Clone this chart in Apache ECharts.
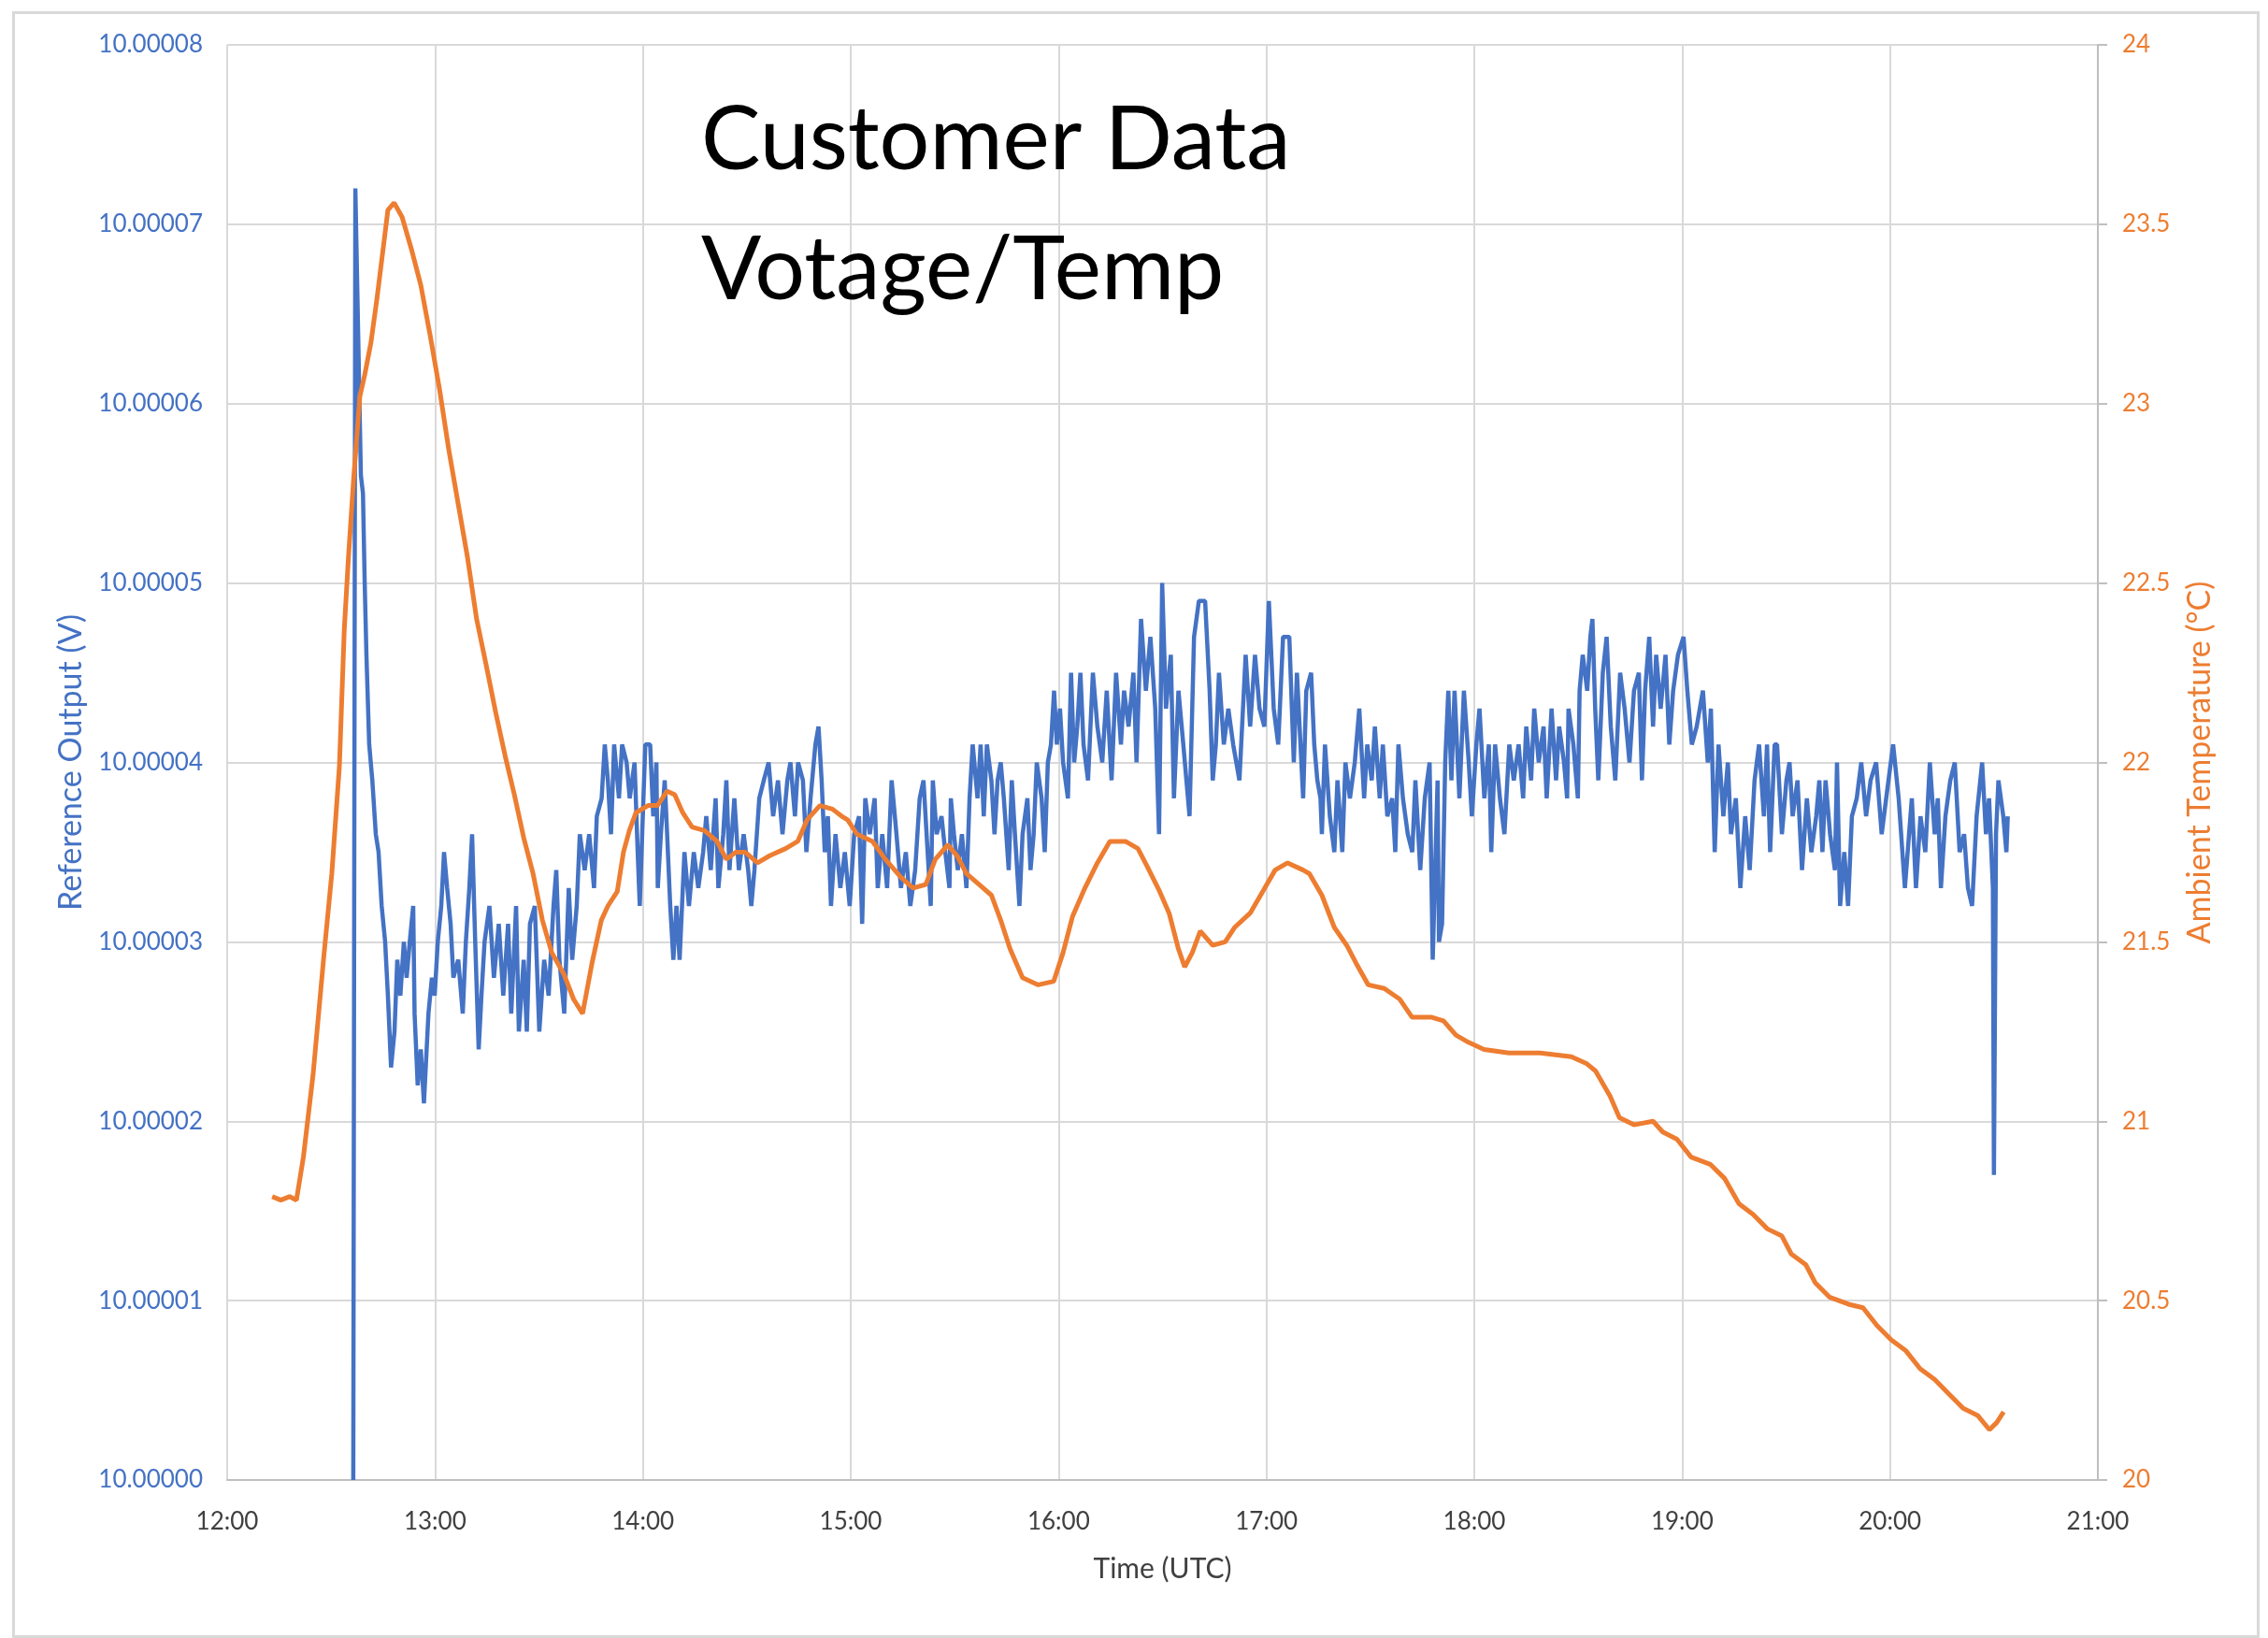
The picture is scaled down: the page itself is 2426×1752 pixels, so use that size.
<!DOCTYPE html>
<html>
<head>
<meta charset="utf-8">
<title>Customer Data Votage/Temp</title>
<script src="https://cdn.jsdelivr.net/npm/echarts/dist/echarts.min.js"></script>
<style>
html, body { margin: 0; padding: 0; background: #fff; }
#chart { width: 2426px; height: 1752px; }
</style>
</head>
<body>
<div id="chart"></div>
<script>
// time axis is minutes after midnight (UTC)
var hourTicks = ["12:00", "13:00", "14:00", "15:00", "16:00", "17:00", "18:00", "19:00", "20:00", "21:00"];

var voltTimes = [
  756.4, 757.0, 757.8, 758.6, 759.2, 759.7, 760.2, 761.0, 761.9, 762.9,
  763.7, 764.6, 765.6, 766.4, 767.3, 768.3, 769.1, 770.0, 771.0, 771.8,
  772.7, 773.7, 774.1, 775.0, 775.9, 776.8, 778.1, 779.1, 779.9, 780.8,
  781.8, 782.6, 783.5, 784.5, 785.3, 786.7, 788.0, 788.9, 789.9, 790.7,
  791.6, 792.6, 793.4, 794.3, 795.7, 797.0, 798.4, 799.7, 801.1, 802.0,
  803.4, 804.2, 805.6, 806.5, 807.4, 808.8, 810.1, 811.5, 812.8, 814.2,
  815.0, 815.9, 817.3, 818.6, 819.6, 820.9, 821.8, 823.2, 824.5, 825.9,
  826.7, 828.1, 829.0, 829.9, 830.8, 831.7, 833.1, 834.0, 835.3, 836.2,
  837.6, 838.5, 839.1, 839.8, 840.7, 842.1, 843.0, 843.9, 844.3, 845.2,
  846.3, 847.0, 847.9, 848.8, 849.7, 850.6, 852.0, 853.3, 854.7, 856.0,
  857.4, 858.3, 859.6, 861.0, 861.8, 863.2, 864.1, 865.0, 866.4, 867.7,
  869.1, 870.4, 871.3, 872.2, 873.6, 874.9, 876.3, 877.6, 879.0, 880.3,
  881.7, 882.6, 883.9, 884.8, 886.2, 887.2, 888.4, 889.8, 890.7, 891.6,
  892.5, 893.4, 894.3, 895.6, 897.0, 898.3, 899.7, 901.0, 902.4, 903.3,
  904.2, 905.5, 906.9, 907.8, 909.1, 910.5, 911.8, 913.2, 914.5, 915.9,
  917.2, 918.6, 919.9, 921.0, 922.2, 923.1, 923.7, 924.8, 926.2, 927.3,
  928.5, 928.9, 929.8, 930.9, 932.1, 933.4, 934.3, 935.2, 936.6, 937.5,
  938.4, 939.3, 940.6, 941.5, 942.4, 943.3, 944.2, 945.6, 946.5, 947.4,
  948.7, 949.6, 951.0, 951.9, 952.8, 953.7, 955.1, 956.0, 956.9, 957.8,
  958.7, 959.5, 960.4, 961.3, 962.7, 963.6, 964.5, 965.4, 966.3, 967.2,
  968.5, 969.9, 971.2, 972.6, 973.9, 975.3, 976.6, 978.0, 978.9, 980.2,
  981.6, 982.5, 983.8, 985.2, 986.5, 987.9, 989.0, 989.9, 991.0, 992.4,
  993.3, 994.6, 996.0, 997.8, 999.1, 1000.5, 1002.3, 1003.6, 1004.5, 1005.4,
  1006.3, 1007.7, 1009.0, 1010.4, 1012.2, 1014.0, 1015.3, 1016.7, 1018.0, 1019.4,
  1020.7, 1022.1, 1023.4, 1024.8, 1026.6, 1027.9, 1028.8, 1030.6, 1031.5, 1032.9,
  1033.8, 1034.7, 1035.6, 1036.0, 1036.9, 1038.3, 1039.6, 1040.5, 1041.9, 1042.8,
  1044.1, 1045.5, 1046.8, 1048.2, 1049.1, 1050.4, 1051.3, 1052.7, 1053.6, 1054.9,
  1056.3, 1057.2, 1058.1, 1059.4, 1060.8, 1062.1, 1063.0, 1064.4, 1065.7, 1067.1,
  1068.0, 1069.4, 1069.8, 1070.7, 1071.6, 1072.5, 1073.4, 1074.3, 1075.7, 1077.0,
  1078.4, 1079.3, 1080.6, 1081.5, 1082.9, 1084.2, 1084.9, 1086.0, 1087.4, 1088.7,
  1090.1, 1091.4, 1092.8, 1094.1, 1095.0, 1096.4, 1097.3, 1098.6, 1100.0, 1100.9,
  1102.3, 1103.6, 1104.5, 1105.9, 1106.8, 1107.2, 1108.6, 1109.9, 1110.4, 1111.3,
  1112.6, 1113.5, 1114.1, 1114.9, 1115.8, 1117.1, 1118.2, 1119.4, 1120.7, 1122.1,
  1123.4, 1124.8, 1126.1, 1127.5, 1128.4, 1129.3, 1130.5, 1131.6, 1132.5, 1133.8,
  1135.2, 1136.3, 1137.4, 1138.8, 1140.4, 1141.5, 1142.8, 1144.2, 1146.0, 1147.4,
  1148.3, 1149.4, 1150.5, 1151.9, 1153.2, 1154.1, 1155.5, 1156.8, 1158.2, 1159.5,
  1160.9, 1162.2, 1163.6, 1164.5, 1165.4, 1166.7, 1167.4, 1168.8, 1170.1, 1171.0,
  1171.9, 1173.3, 1174.6, 1176.0, 1177.3, 1178.7, 1179.6, 1180.5, 1181.4, 1182.7,
  1184.1, 1184.7, 1185.6, 1186.8, 1187.9, 1189.0, 1190.4, 1191.7, 1193.1, 1194.4,
  1196.0, 1197.6, 1198.9, 1200.9, 1202.5, 1204.3, 1206.3, 1207.5, 1208.8, 1210.2,
  1211.5, 1212.9, 1213.8, 1214.7, 1216.0, 1217.4, 1218.7, 1220.1, 1221.4, 1222.5,
  1223.7, 1225.0, 1226.6, 1227.7, 1228.6, 1229.7, 1230.0, 1230.6, 1231.3, 1232.7,
  1233.6, 1234.0
];

var voltValues = [
  10.000000, 10.000072, 10.000064, 10.000056, 10.000055, 10.000050, 10.000046, 10.000041, 10.000039, 10.000036,
  10.000035, 10.000032, 10.000030, 10.000027, 10.000023, 10.000025, 10.000029, 10.000027, 10.000030, 10.000028,
  10.000030, 10.000032, 10.000026, 10.000022, 10.000024, 10.000021, 10.000026, 10.000028, 10.000027, 10.000030,
  10.000032, 10.000035, 10.000033, 10.000031, 10.000028, 10.000029, 10.000026, 10.000030, 10.000033, 10.000036,
  10.000030, 10.000024, 10.000027, 10.000030, 10.000032, 10.000028, 10.000031, 10.000027, 10.000031, 10.000026,
  10.000032, 10.000025, 10.000029, 10.000025, 10.000031, 10.000032, 10.000025, 10.000029, 10.000027, 10.000032,
  10.000034, 10.000029, 10.000026, 10.000033, 10.000029, 10.000032, 10.000036, 10.000034, 10.000036, 10.000033,
  10.000037, 10.000038, 10.000041, 10.000039, 10.000036, 10.000041, 10.000038, 10.000041, 10.000040, 10.000038,
  10.000040, 10.000035, 10.000032, 10.000036, 10.000041, 10.000041, 10.000037, 10.000040, 10.000033, 10.000036,
  10.000039, 10.000036, 10.000032, 10.000029, 10.000032, 10.000029, 10.000035, 10.000032, 10.000035, 10.000033,
  10.000035, 10.000037, 10.000034, 10.000038, 10.000033, 10.000036, 10.000039, 10.000034, 10.000038, 10.000034,
  10.000036, 10.000034, 10.000032, 10.000034, 10.000038, 10.000039, 10.000040, 10.000037, 10.000039, 10.000036,
  10.000039, 10.000040, 10.000037, 10.000040, 10.000039, 10.000035, 10.000038, 10.000041, 10.000042, 10.000039,
  10.000035, 10.000037, 10.000032, 10.000036, 10.000033, 10.000035, 10.000032, 10.000036, 10.000037, 10.000031,
  10.000038, 10.000036, 10.000038, 10.000033, 10.000036, 10.000033, 10.000039, 10.000036, 10.000033, 10.000035,
  10.000032, 10.000034, 10.000038, 10.000039, 10.000035, 10.000032, 10.000039, 10.000036, 10.000037, 10.000035,
  10.000033, 10.000038, 10.000036, 10.000034, 10.000036, 10.000033, 10.000038, 10.000041, 10.000038, 10.000041,
  10.000037, 10.000041, 10.000039, 10.000036, 10.000039, 10.000040, 10.000038, 10.000034, 10.000039, 10.000036,
  10.000032, 10.000036, 10.000038, 10.000034, 10.000036, 10.000040, 10.000038, 10.000035, 10.000040, 10.000041,
  10.000044, 10.000041, 10.000043, 10.000040, 10.000038, 10.000045, 10.000040, 10.000042, 10.000045, 10.000041,
  10.000039, 10.000045, 10.000042, 10.000040, 10.000044, 10.000039, 10.000045, 10.000041, 10.000044, 10.000042,
  10.000045, 10.000040, 10.000048, 10.000044, 10.000047, 10.000043, 10.000036, 10.000050, 10.000043, 10.000046,
  10.000038, 10.000044, 10.000041, 10.000037, 10.000047, 10.000049, 10.000049, 10.000044, 10.000039, 10.000041,
  10.000045, 10.000041, 10.000043, 10.000041, 10.000039, 10.000046, 10.000042, 10.000046, 10.000043, 10.000042,
  10.000049, 10.000043, 10.000041, 10.000047, 10.000047, 10.000040, 10.000045, 10.000038, 10.000044, 10.000045,
  10.000041, 10.000039, 10.000038, 10.000036, 10.000041, 10.000037, 10.000035, 10.000039, 10.000035, 10.000040,
  10.000038, 10.000040, 10.000043, 10.000038, 10.000041, 10.000039, 10.000042, 10.000038, 10.000041, 10.000037,
  10.000038, 10.000035, 10.000041, 10.000038, 10.000036, 10.000035, 10.000039, 10.000034, 10.000038, 10.000040,
  10.000029, 10.000039, 10.000030, 10.000031, 10.000040, 10.000044, 10.000039, 10.000044, 10.000038, 10.000044,
  10.000040, 10.000037, 10.000041, 10.000043, 10.000038, 10.000041, 10.000035, 10.000041, 10.000038, 10.000036,
  10.000041, 10.000039, 10.000041, 10.000038, 10.000042, 10.000039, 10.000043, 10.000040, 10.000042, 10.000038,
  10.000043, 10.000039, 10.000042, 10.000040, 10.000038, 10.000043, 10.000041, 10.000038, 10.000044, 10.000046,
  10.000044, 10.000047, 10.000048, 10.000043, 10.000039, 10.000045, 10.000047, 10.000042, 10.000039, 10.000045,
  10.000043, 10.000040, 10.000044, 10.000045, 10.000039, 10.000044, 10.000047, 10.000042, 10.000046, 10.000043,
  10.000046, 10.000041, 10.000044, 10.000046, 10.000047, 10.000044, 10.000041, 10.000042, 10.000044, 10.000040,
  10.000043, 10.000035, 10.000041, 10.000037, 10.000040, 10.000036, 10.000038, 10.000033, 10.000037, 10.000034,
  10.000039, 10.000041, 10.000037, 10.000041, 10.000035, 10.000041, 10.000041, 10.000036, 10.000039, 10.000040,
  10.000037, 10.000039, 10.000034, 10.000038, 10.000035, 10.000037, 10.000039, 10.000035, 10.000039, 10.000036,
  10.000034, 10.000040, 10.000032, 10.000035, 10.000032, 10.000037, 10.000038, 10.000040, 10.000037, 10.000039,
  10.000040, 10.000036, 10.000038, 10.000041, 10.000038, 10.000033, 10.000038, 10.000033, 10.000037, 10.000035,
  10.000040, 10.000036, 10.000038, 10.000033, 10.000037, 10.000039, 10.000040, 10.000035, 10.000036, 10.000033,
  10.000032, 10.000037, 10.000040, 10.000036, 10.000038, 10.000033, 10.000017, 10.000036, 10.000039, 10.000037,
  10.000035, 10.000037
];

var tempTimes = [
  733.0, 735.5, 738.0, 740.0, 742.0, 744.8, 748.0, 750.2, 752.4, 753.8,
  755.0, 756.5, 758.3, 759.7, 761.5, 763.2, 765.0, 766.4, 768.2, 770.5,
  773.2, 775.9, 778.6, 781.3, 784.0, 786.7, 789.4, 792.0, 794.8, 797.5,
  800.2, 802.9, 805.6, 808.3, 811.0, 813.7, 817.2, 820.0, 822.6, 825.3,
  828.0, 829.9, 832.6, 834.4, 836.1, 838.0, 841.5, 844.2, 847.0, 849.2,
  851.5, 854.2, 857.8, 861.4, 864.1, 866.8, 869.5, 873.1, 876.6, 881.2,
  884.7, 887.4, 891.1, 894.7, 897.4, 899.1, 901.8, 906.3, 910.0, 914.5,
  918.0, 921.7, 924.4, 928.0, 930.7, 933.4, 937.0, 940.6, 943.3, 946.0,
  949.6, 954.1, 958.6, 961.3, 964.0, 967.6, 971.2, 974.8, 979.3, 982.9,
  985.6, 989.2, 991.9, 994.6, 996.4, 998.6, 1000.9, 1004.5, 1008.1, 1010.8,
  1015.3, 1018.9, 1022.5, 1026.1, 1030.6, 1032.4, 1036.0, 1039.6, 1043.2, 1045.9,
  1049.4, 1054.0, 1058.5, 1062.0, 1067.5, 1071.1, 1074.7, 1078.3, 1082.8, 1090.0,
  1099.0, 1108.0, 1112.5, 1115.0, 1119.2, 1121.9, 1126.1, 1131.6, 1134.4, 1138.5,
  1142.6, 1148.1, 1152.3, 1156.4, 1160.5, 1164.6, 1168.8, 1171.5, 1175.7, 1178.4,
  1182.5, 1188.0, 1192.2, 1196.3, 1200.4, 1204.6, 1208.7, 1212.9, 1217.0, 1221.1,
  1225.3, 1228.7, 1230.8, 1232.8
];

var tempValues = [
  20.79, 20.78, 20.79, 20.78, 20.90, 21.13, 21.47, 21.69, 21.99, 22.37,
  22.57, 22.79, 23.02, 23.08, 23.17, 23.29, 23.43, 23.54, 23.56, 23.52,
  23.43, 23.33, 23.19, 23.04, 22.87, 22.72, 22.57, 22.40, 22.27, 22.14,
  22.02, 21.91, 21.79, 21.69, 21.56, 21.47, 21.41, 21.34, 21.30, 21.44,
  21.56, 21.60, 21.64, 21.75, 21.81, 21.86, 21.88, 21.88, 21.92, 21.91,
  21.86, 21.82, 21.81, 21.78, 21.73, 21.75, 21.75, 21.72, 21.74, 21.76,
  21.78, 21.84, 21.88, 21.87, 21.85, 21.84, 21.80, 21.78, 21.73, 21.68,
  21.65, 21.66, 21.73, 21.77, 21.74, 21.69, 21.66, 21.63, 21.56, 21.48,
  21.40, 21.38, 21.39, 21.47, 21.57, 21.65, 21.72, 21.78, 21.78, 21.76,
  21.71, 21.64, 21.58, 21.48, 21.43, 21.47, 21.53, 21.49, 21.50, 21.54,
  21.58, 21.64, 21.70, 21.72, 21.70, 21.69, 21.63, 21.54, 21.49, 21.44,
  21.38, 21.37, 21.34, 21.29, 21.29, 21.28, 21.24, 21.22, 21.20, 21.19,
  21.19, 21.18, 21.16, 21.14, 21.07, 21.01, 20.99, 21.00, 20.97, 20.95,
  20.90, 20.88, 20.84, 20.77, 20.74, 20.70, 20.68, 20.63, 20.60, 20.55,
  20.51, 20.49, 20.48, 20.43, 20.39, 20.36, 20.31, 20.28, 20.24, 20.20,
  20.18, 20.14, 20.16, 20.19
];

var chart = echarts.init(document.getElementById("chart"));

var font = "Lato, 'Open Sans', sans-serif";
var gridColor = "#d9d9d9";

var option = {
  animation: false,
  backgroundColor: "#ffffff",
  textStyle: { fontFamily: font },
  title: {
    text: "Customer Data\nVotage/Temp",
    left: 745,
    top: 76,
    textStyle: {
      fontFamily: font,
      fontSize: 95,
      fontWeight: "normal",
      color: "#000000",
      lineHeight: 139
    }
  },
  graphic: [
    {
      // outer chart frame
      type: "rect",
      left: 12,
      top: 11,
      shape: { width: 2401, height: 1737 },
      style: { fill: null, stroke: "#d9d9d9", lineWidth: 3 },
      silent: true
    }
  ],
  grid: {
    left: 243,
    right: 182,
    top: 48,
    bottom: 169
  },
  xAxis: {
    type: "value",
    min: 720,
    max: 1260,
    interval: 60,
    name: "Time (UTC)",
    nameLocation: "middle",
    nameGap: 80,
    nameTextStyle: { color: "#404040", fontSize: 30, fontFamily: font },
    axisLine: { show: true, lineStyle: { color: "#bfbfbf", width: 2 } },
    axisTick: { show: false },
    axisLabel: {
      color: "#404040",
      fontSize: 26,
      margin: 32,
      formatter: function (v) {
        return hourTicks[Math.round((v - 720) / 60)];
      }
    },
    splitLine: { show: true, lineStyle: { color: gridColor, width: 2 } }
  },
  yAxis: [
    {
      type: "value",
      position: "left",
      min: 10,
      max: 10.00008,
      interval: 0.00001,
      name: "Reference Output (V)",
      nameLocation: "middle",
      nameGap: 150,
      nameTextStyle: { color: "#4472c4", fontSize: 34, fontFamily: font },
      axisLine: { show: false },
      axisTick: { show: false },
      axisLabel: {
        color: "#4472c4",
        fontSize: 26,
        margin: 26,
        formatter: function (v) {
          return v.toFixed(5);
        }
      },
      splitLine: { show: true, lineStyle: { color: gridColor, width: 2 } }
    },
    {
      type: "value",
      position: "right",
      min: 20,
      max: 24,
      interval: 0.5,
      name: "Ambient Temperature (°C)",
      nameLocation: "middle",
      nameGap: 92,
      nameRotate: 90,
      nameTextStyle: { color: "#ed7d31", fontSize: 34, fontFamily: font },
      axisLine: { show: true, lineStyle: { color: "#bfbfbf", width: 2 } },
      axisTick: { show: true, length: 10, lineStyle: { color: "#bfbfbf", width: 2 } },
      axisLabel: { color: "#ed7d31", fontSize: 26, margin: 26 },
      splitLine: { show: false }
    }
  ],
  series: [
    {
      name: "Reference Output (V)",
      type: "line",
      yAxisIndex: 0,
      showSymbol: false,
      lineStyle: { color: "#4472c4", width: 4.5 },
      itemStyle: { color: "#4472c4" },
      data: voltTimes.map(function (t, i) {
        return [t, voltValues[i]];
      })
    },
    {
      name: "Ambient Temperature (°C)",
      type: "line",
      yAxisIndex: 1,
      showSymbol: false,
      lineStyle: { color: "#ed7d31", width: 5 },
      itemStyle: { color: "#ed7d31" },
      data: tempTimes.map(function (t, i) {
        return [t, tempValues[i]];
      })
    }
  ]
};

chart.setOption(option);
</script>
</body>
</html>
